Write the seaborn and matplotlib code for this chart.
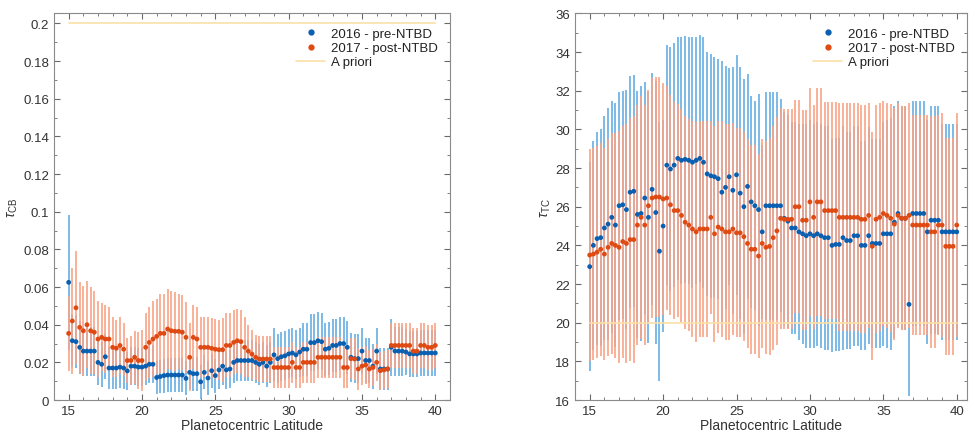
import numpy as np
import pandas as pd
import seaborn as sns
import matplotlib
matplotlib.use("Agg")
import matplotlib.pyplot as plt
from matplotlib.lines import Line2D
from matplotlib.ticker import MultipleLocator

# Latitude grid of the retrievals (0.25 deg sampling)
latitude = np.linspace(15, 40, 101)

# Cloud-base optical depth (tau_CB)
cb_2016 = [0.0625, 0.0315, 0.031, 0.028,
           0.026, 0.026, 0.026, 0.026,
           0.020, 0.019, 0.023, 0.017,
           0.017, 0.017, 0.0175, 0.017,
           0.0155, 0.018, 0.018, 0.0175,
           0.0175, 0.018, 0.019, 0.019,
           0.012, 0.0125, 0.013, 0.0133,
           0.0133, 0.0133, 0.0133, 0.0133,
           0.0115, 0.0147, 0.014, 0.014,
           0.0097, 0.0147, 0.0117, 0.0156,
           0.013, 0.016, 0.018, 0.016,
           0.0165, 0.020, 0.021, 0.021,
           0.021, 0.021, 0.021, 0.020,
           0.019, 0.020, 0.018, 0.020,
           0.024, 0.022, 0.023, 0.0235,
           0.0245, 0.025, 0.024, 0.0255,
           0.027, 0.027, 0.0305, 0.0305,
           0.0315, 0.031, 0.027, 0.0275,
           0.029, 0.029, 0.030, 0.030,
           0.028, 0.0227, 0.022, 0.022,
           0.026, 0.021, 0.021, 0.018,
           0.026, 0.0165, 0.0165, 0.0165,
           0.028, 0.026, 0.026, 0.026,
           0.0255, 0.0245, 0.0245, 0.0245,
           0.025, 0.025, 0.025, 0.025,
           0.025]
cb_2016_err = [0.036, 0.014, 0.014, 0.014,
               0.013, 0.013, 0.013, 0.013,
               0.012, 0.012, 0.012, 0.011,
               0.011, 0.011, 0.011, 0.011,
               0.010, 0.010, 0.010, 0.010,
               0.010, 0.010, 0.010, 0.010,
               0.009, 0.009, 0.009, 0.009,
               0.009, 0.009, 0.009, 0.009,
               0.009, 0.009, 0.009, 0.009,
               0.009, 0.009, 0.009, 0.009,
               0.009, 0.010, 0.010, 0.010,
               0.010, 0.011, 0.011, 0.011,
               0.011, 0.011, 0.011, 0.011,
               0.011, 0.011, 0.011, 0.011,
               0.014, 0.013, 0.013, 0.013,
               0.013, 0.013, 0.013, 0.013,
               0.014, 0.014, 0.015, 0.015,
               0.015, 0.015, 0.014, 0.014,
               0.014, 0.014, 0.014, 0.014,
               0.014, 0.013, 0.013, 0.013,
               0.012, 0.012, 0.012, 0.012,
               0.012, 0.011, 0.011, 0.011,
               0.015, 0.013, 0.013, 0.013,
               0.012, 0.012, 0.012, 0.012,
               0.012, 0.012, 0.012, 0.012,
               0.012]
cb_2017 = [0.0354, 0.042, 0.049, 0.0386,
           0.0368, 0.040, 0.0368, 0.036,
           0.0324, 0.0333, 0.0324, 0.0324,
           0.028, 0.0275, 0.029, 0.027,
           0.021, 0.021, 0.0227, 0.021,
           0.021, 0.028, 0.0306, 0.0324,
           0.0338, 0.0354, 0.0354, 0.0377,
           0.0368, 0.0365, 0.0365, 0.036,
           0.0333, 0.0227, 0.0333, 0.0324,
           0.028, 0.028, 0.028, 0.0275,
           0.027, 0.0267, 0.0267, 0.029,
           0.029, 0.0306, 0.0315, 0.031,
           0.028, 0.026, 0.0244, 0.0227,
           0.0218, 0.0218, 0.0218, 0.0218,
           0.0173, 0.0173, 0.0173, 0.0173,
           0.0173, 0.020, 0.0173, 0.0173,
           0.020, 0.020, 0.020, 0.020,
           0.0227, 0.0227, 0.0227, 0.0227,
           0.0227, 0.0227, 0.0227, 0.0173,
           0.0173, 0.022, 0.0218, 0.0165,
           0.018, 0.0186, 0.0165, 0.0173,
           0.020, 0.0156, 0.016, 0.0165,
           0.029, 0.029, 0.029, 0.029,
           0.029, 0.029, 0.026, 0.026,
           0.029, 0.029, 0.028, 0.028,
           0.029]
cb_2017_err = [0.020, 0.028, 0.030, 0.024,
               0.024, 0.023, 0.023, 0.022,
               0.020, 0.018, 0.018, 0.017,
               0.016, 0.015, 0.015, 0.014,
               0.012, 0.013, 0.014, 0.015,
               0.016, 0.018, 0.019, 0.020,
               0.020, 0.021, 0.021, 0.021,
               0.021, 0.021, 0.020, 0.020,
               0.019, 0.018, 0.017, 0.017,
               0.016, 0.016, 0.016, 0.016,
               0.016, 0.016, 0.017, 0.017,
               0.017, 0.017, 0.017, 0.017,
               0.016, 0.014, 0.013, 0.012,
               0.012, 0.012, 0.012, 0.012,
               0.011, 0.011, 0.011, 0.011,
               0.011, 0.011, 0.011, 0.011,
               0.011, 0.011, 0.011, 0.011,
               0.011, 0.011, 0.011, 0.011,
               0.011, 0.011, 0.011, 0.011,
               0.011, 0.011, 0.011, 0.011,
               0.010, 0.010, 0.010, 0.010,
               0.010, 0.010, 0.010, 0.010,
               0.012, 0.012, 0.012, 0.012,
               0.012, 0.012, 0.012, 0.012,
               0.012, 0.012, 0.012, 0.012,
               0.012]

# Tropospheric cloud optical depth (tau_TC)
tc_2016 = [22.9, 24.0, 24.35, 24.4,
           24.9, 25.1, 25.45, 25.05,
           26.05, 26.1, 25.85, 26.75,
           26.8, 25.6, 25.65, 26.45,
           25.45, 26.9, 25.7, 23.7,
           25.0, 28.15, 27.95, 28.15,
           28.5, 28.4, 28.45, 28.4,
           28.3, 28.4, 28.5, 28.3,
           27.7, 27.6, 27.55, 27.45,
           26.75, 27.0, 27.55, 26.85,
           27.65, 26.7, 26.0, 27.05,
           26.25, 26.05, 25.85, 24.7,
           26.05, 26.05, 26.05, 26.05,
           26.05, 25.4, 25.25, 24.9,
           24.9, 24.7, 24.6, 24.5,
           24.6, 24.5, 24.6, 24.5,
           24.4, 24.4, 24.0, 24.05,
           24.05, 24.4, 24.25, 24.25,
           24.5, 24.5, 24.0, 24.0,
           24.5, 24.1, 24.1, 24.1,
           24.6, 24.6, 24.6, 25.2,
           25.65, 25.4, 25.4, 20.95,
           25.65, 25.65, 25.65, 25.65,
           24.7, 25.3, 25.3, 25.3,
           24.7, 24.7, 24.7, 24.7,
           24.7]
tc_2016_err = [5.4, 5.4, 5.5, 5.6,
               5.8, 6.0, 6.0, 6.3,
               5.9, 5.9, 6.2, 6.0,
               6.0, 6.4, 6.6, 6.0,
               6.5, 6.0, 6.8, 6.7,
               5.5, 6.2, 6.3, 6.3,
               6.3, 6.4, 6.4, 6.4,
               6.5, 6.4, 6.4, 6.5,
               6.3, 6.3, 6.2, 6.2,
               6.8, 6.3, 5.6, 6.4,
               6.2, 6.5, 6.6, 5.8,
               5.5, 5.4, 6.0, 4.5,
               5.9, 5.9, 5.9, 5.9,
               5.5, 5.5, 5.5, 5.5,
               5.5, 5.6, 5.7, 5.8,
               5.9, 5.8, 5.8, 5.8,
               5.8, 5.8, 5.5, 5.5,
               5.5, 5.8, 5.6, 5.6,
               5.7, 5.7, 5.4, 5.4,
               5.6, 5.4, 5.4, 5.4,
               5.8, 5.9, 6.0, 6.0,
               5.8, 5.8, 5.8, 4.75,
               5.8, 5.8, 5.8, 5.8,
               5.8, 5.9, 5.9, 5.9,
               5.6, 5.6, 5.6, 5.6,
               5.6]
tc_2017 = [23.5, 23.55, 23.65, 23.8,
           23.55, 23.9, 24.1, 24.0,
           23.9, 24.2, 24.1, 24.3,
           24.3, 25.05, 25.45, 25.05,
           26.05, 26.45, 26.5, 26.5,
           26.4, 26.45, 26.1, 25.8,
           25.8, 25.55, 25.2, 25.05,
           24.85, 24.7, 24.85, 24.85,
           24.85, 25.45, 24.6, 24.95,
           24.85, 24.7, 24.7, 24.85,
           24.65, 24.65, 24.45, 24.1,
           23.8, 23.8, 23.45, 24.1,
           23.9, 23.95, 24.4, 24.75,
           25.4, 25.35, 25.35, 25.35,
           26.0, 26.0, 25.3, 25.3,
           26.25, 25.45, 26.25, 26.25,
           25.8, 25.8, 25.8, 25.8,
           25.45, 25.45, 25.45, 25.45,
           25.45, 25.45, 25.35, 25.35,
           25.55, 23.95, 25.35, 25.45,
           25.65, 25.55, 25.4, 25.1,
           25.55, 25.4, 25.4, 25.55,
           25.05, 25.05, 25.05, 25.05,
           25.05, 24.7, 24.7, 25.05,
           25.05, 23.95, 23.95, 23.95,
           25.05]
tc_2017_err = [5.5, 5.5, 5.5, 5.5,
               5.5, 5.6, 5.7, 5.8,
               6.0, 6.0, 6.2, 6.3,
               6.4, 6.2, 6.3, 6.2,
               6.0, 6.2, 6.2, 6.2,
               6.0, 5.8, 5.7, 5.6,
               5.5, 5.5, 5.5, 5.5,
               5.6, 5.7, 5.6, 5.6,
               5.6, 5.0, 5.6, 5.5,
               5.6, 5.6, 5.6, 5.5,
               5.4, 5.4, 5.4, 5.4,
               5.4, 5.4, 5.3, 5.4,
               5.5, 5.6, 5.8, 5.9,
               5.7, 5.7, 5.7, 5.7,
               5.5, 5.5, 5.7, 5.7,
               5.9, 5.8, 5.9, 5.9,
               5.6, 5.6, 5.6, 5.6,
               5.9, 5.9, 5.9, 5.9,
               5.9, 5.9, 5.9, 5.9,
               5.8, 5.9, 5.9, 5.9,
               5.8, 5.8, 5.9, 6.0,
               5.8, 5.8, 5.8, 5.8,
               5.7, 5.7, 5.7, 5.7,
               5.7, 6.0, 6.0, 5.7,
               5.8, 5.6, 5.6, 5.6,
               5.8]

# A priori values of each retrieved parameter
prior_cb = 0.2
prior_tc = 20.0

series_labels = ["2016 - pre-NTBD", "2017 - post-NTBD", "A priori"]

BLUE = "#0a5fb0"
ORANGE = "#de4a12"
BLUE_BAR = "#66aee2"
ORANGE_BAR = "#f9a488"
PRIOR = "#fbe0a6"

sns.set_theme(style="ticks")
plt.rcParams["font.family"] = ["Liberation Sans", "DejaVu Sans"]
plt.rcParams["mathtext.fontset"] = "custom"
plt.rcParams["mathtext.rm"] = "Liberation Sans"
plt.rcParams["mathtext.it"] = "Liberation Sans:italic"

fig = plt.figure(figsize=(9.71, 4.35), dpi=100)
ax_l = fig.add_axes([0.0556, 0.078, 0.4078, 0.889])
ax_r = fig.add_axes([0.5922, 0.078, 0.4037, 0.889])


def panel(ax, v16, e16, v17, e17, prior, ylim, ymajor, yminor, ylabel, yfmt):
    df16 = pd.DataFrame({"lat": latitude, "val": v16, "err": e16})
    df17 = pd.DataFrame({"lat": latitude, "val": v17, "err": e17})
    df_prior = pd.DataFrame({"lat": [latitude[0], latitude[-1]],
                             "val": [prior, prior]})

    ax.vlines(df16["lat"], df16["val"] - df16["err"], df16["val"] + df16["err"],
              color=BLUE_BAR, lw=1.2, zorder=1)
    ax.vlines(df17["lat"], df17["val"] - df17["err"], df17["val"] + df17["err"],
              color=ORANGE_BAR, lw=1.2, zorder=2)
    sns.lineplot(data=df_prior, x="lat", y="val", ax=ax, color=PRIOR,
                 lw=1.2, zorder=3, legend=False)
    sns.scatterplot(data=df16, x="lat", y="val", ax=ax, color=BLUE, s=12,
                    edgecolor="none", zorder=4, legend=False)
    sns.scatterplot(data=df17, x="lat", y="val", ax=ax, color=ORANGE, s=12,
                    edgecolor="none", zorder=5, legend=False)

    ax.set_ylim(*ylim)
    ax.xaxis.set_major_locator(MultipleLocator(5))
    ax.xaxis.set_minor_locator(MultipleLocator(1))
    ax.yaxis.set_major_locator(MultipleLocator(ymajor))
    ax.yaxis.set_minor_locator(MultipleLocator(yminor))
    ax.yaxis.set_major_formatter(matplotlib.ticker.FuncFormatter(yfmt))
    ax.tick_params(which="both", direction="in", top=True, right=True,
                   colors="#6a6a6a", labelcolor="#333333", labelsize=9.5)
    ax.tick_params(which="major", length=4, width=0.8)
    ax.tick_params(which="minor", length=2, width=0.6)
    for sp in ax.spines.values():
        sp.set_color("#8a8a8a")
        sp.set_linewidth(0.8)
    ax.set_xlabel("Planetocentric Latitude", fontsize=10, color="#333333",
                  labelpad=1)
    ax.set_ylabel(ylabel, fontsize=10, color="#333333", labelpad=2)

    handles = [
        Line2D([], [], ls="none", marker="o", ms=3.5, color=BLUE),
        Line2D([], [], ls="none", marker="o", ms=3.5, color=ORANGE),
        Line2D([], [], color=PRIOR, lw=1.2),
    ]
    leg = ax.legend(handles, series_labels, loc="upper right", fontsize=9.5,
                    frameon=True, facecolor="white", edgecolor="none",
                    framealpha=1.0, handlelength=2.2, handletextpad=0.4,
                    labelspacing=0.15, borderpad=0.3,
                    bbox_to_anchor=(0.995, 0.99))
    for t in leg.get_texts():
        t.set_color("#222222")


def fmt_cb(v, pos):
    if abs(v) < 1e-9:
        return "0"
    return f"{v:.2f}".rstrip("0")


def fmt_tc(v, pos):
    return f"{v:.0f}"


panel(ax_l, cb_2016, cb_2016_err, cb_2017, cb_2017_err, prior_cb,
      (0, 0.2053), 0.02, 0.01, r"$\tau_{\mathrm{CB}}$", fmt_cb)
ax_l.set_xlim(14, 41)

panel(ax_r, tc_2016, tc_2016_err, tc_2017, tc_2017_err, prior_tc,
      (16, 36), 2, 1, r"$\tau_{\mathrm{TC}}$", fmt_tc)
ax_r.set_xlim(14, 40.7)

fig.savefig("out.png", dpi=100, facecolor="white")
